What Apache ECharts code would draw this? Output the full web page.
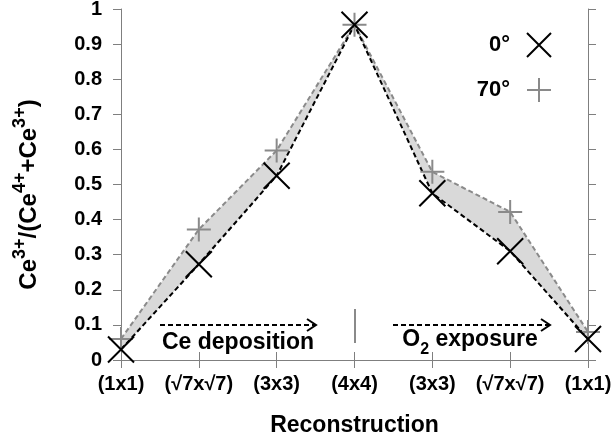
<!DOCTYPE html>
<html>
<head>
<meta charset="utf-8">
<script src="https://cdn.jsdelivr.net/npm/echarts@6/dist/echarts.min.js"></script>
<style>
  html, body { margin: 0; padding: 0; background: #fff; }
  #chart { width: 614px; height: 439px; }
</style>
</head>
<body>
<div id="chart"></div>
<script>
// Reconstruction sequence: Ce deposition up to (4x4), then O2 exposure back to (1x1)
const categories = ['(1x1)', '(√7x√7)', '(3x3)', '(4x4)', '(3x3)', '(√7x√7)', '(1x1)'];
// Ce3+ fraction at normal emission (0°) and grazing emission (70°)
const ratio0 = [0.03, 0.273, 0.525, 0.955, 0.475, 0.31, 0.06];
const ratio70 = [0.06, 0.372, 0.597, 0.955, 0.536, 0.422, 0.08];
const yTicks = { min: 0, max: 1, interval: 0.1 };

const FONT = '"Liberation Sans", Arial, Helvetica, sans-serif';
const AXIS_GREY = '#7f7f7f';
const GREY = '#8a8a8a';

const crossSymbol = 'path://M0,0L24,24M24,0L0,24';
const plusSymbol = 'path://M12,0L12,24M0,12L24,12';

// Shaded band between the two curves: stacked difference on top of the 0° values
const bandBase = ratio0.slice();
const bandWidth = ratio70.map((v, i) => +(v - ratio0[i]).toFixed(3));

const chart = echarts.init(document.getElementById('chart'), null, { renderer: 'canvas' });

const axisCommon = {
  axisLine: { show: true, lineStyle: { color: AXIS_GREY, width: 1 } },
  axisTick: { show: true, inside: false, length: 8, lineStyle: { color: AXIS_GREY, width: 1 } },
  splitLine: { show: false }
};

const option = {
  backgroundColor: '#fff',
  animation: false,
  grid: { left: 121, right: 26, top: 9, bottom: 79, containLabel: false, outerBoundsMode: 'none' },
  legend: {
    orient: 'vertical',
    right: 57,
    top: 27,
    align: 'right',
    itemWidth: 24,
    itemHeight: 24,
    itemGap: 19,
    selectedMode: false,
    textStyle: { fontFamily: FONT, fontWeight: 'bold', fontSize: 22, color: '#000', padding: [0, 12, 0, 0] },
    data: ['0°', '70°']
  },
  xAxis: [
    Object.assign({}, axisCommon, {
      type: 'category',
      data: categories,
      boundaryGap: false,
      position: 'bottom',
      axisTick: Object.assign({}, axisCommon.axisTick, { alignWithLabel: true }),
      axisLabel: { fontFamily: FONT, fontWeight: 'bold', fontSize: 20, color: '#000', margin: 14, interval: 0 },
      name: 'Reconstruction',
      nameLocation: 'middle',
      nameGap: 54,
      nameTextStyle: { fontFamily: FONT, fontWeight: 'bold', fontSize: 23, color: '#000' }
    }),
    Object.assign({}, axisCommon, {
      type: 'category',
      data: categories,
      boundaryGap: false,
      position: 'top',
      axisLabel: { show: false }
    })
  ],
  yAxis: [
    Object.assign({}, axisCommon, {
      type: 'value',
      min: yTicks.min,
      max: yTicks.max,
      interval: yTicks.interval,
      position: 'left',
      axisLabel: { fontFamily: FONT, fontWeight: 'bold', fontSize: 20, color: '#000', margin: 19 },
      name: '{b|Ce}{s|3+}{b|/(Ce}{s|4+}{b|+Ce}{s|3+}{b|)}',
      nameLocation: 'middle',
      nameRotate: 90,
      nameGap: 80,
      nameTextStyle: {
        padding: [0, 20, 0, 0],
        rich: {
          b: { fontFamily: FONT, fontWeight: 'bold', fontSize: 24, color: '#000', lineHeight: 30, verticalAlign: 'bottom' },
          s: { fontFamily: FONT, fontWeight: 'bold', fontSize: 18, color: '#000', lineHeight: 30, verticalAlign: 'top' }
        }
      }
    }),
    Object.assign({}, axisCommon, {
      type: 'value',
      min: yTicks.min,
      max: yTicks.max,
      interval: yTicks.interval,
      position: 'right',
      axisLabel: { show: false }
    })
  ],
  series: [
    {
      name: 'band-base',
      type: 'line',
      stack: 'band',
      data: bandBase,
      symbol: 'none',
      lineStyle: { opacity: 0 },
      silent: true,
      z: 1
    },
    {
      name: 'band',
      type: 'line',
      stack: 'band',
      data: bandWidth,
      symbol: 'none',
      lineStyle: { opacity: 0 },
      areaStyle: { color: '#d9d9d9', opacity: 1 },
      silent: true,
      z: 1
    },
    {
      name: 'line70',
      type: 'line',
      data: ratio70,
      symbol: 'none',
      lineStyle: { color: GREY, width: 2, type: [5, 3] },
      z: 2
    },
    {
      name: 'line0',
      type: 'line',
      data: ratio0,
      symbol: 'none',
      lineStyle: { color: '#000', width: 2, type: [5, 3] },
      z: 3
    },
    {
      name: '70°',
      type: 'scatter',
      data: ratio70,
      symbol: plusSymbol,
      symbolSize: 24,
      itemStyle: { color: 'rgba(0,0,0,0)', borderColor: GREY, borderWidth: 2, opacity: 1 },
      z: 4
    },
    {
      name: '0°',
      type: 'scatter',
      data: ratio0,
      symbol: crossSymbol,
      symbolSize: 26,
      itemStyle: { color: 'rgba(0,0,0,0)', borderColor: '#000', borderWidth: 2, opacity: 1 },
      z: 5
    }
  ],
  graphic: [
    // Ce deposition arrow and label
    { type: 'line', shape: { x1: 160, y1: 325, x2: 315, y2: 325 }, style: { stroke: '#000', lineWidth: 2, lineDash: [5, 3] } },
    { type: 'polyline', shape: { points: [[307, 319], [316, 325], [307, 331]] }, style: { stroke: '#000', lineWidth: 2, fill: null } },
    { type: 'text', x: 238, y: 343, style: { text: 'Ce deposition', font: 'bold 23px ' + FONT, fill: '#000', align: 'center', verticalAlign: 'middle' } },
    // separator at (4x4)
    { type: 'line', shape: { x1: 355, y1: 309, x2: 355, y2: 343 }, style: { stroke: GREY, lineWidth: 2 } },
    // O2 exposure arrow and label
    { type: 'line', shape: { x1: 393, y1: 325, x2: 549, y2: 325 }, style: { stroke: '#000', lineWidth: 2, lineDash: [5, 3] } },
    { type: 'polyline', shape: { points: [[541, 319], [550, 325], [541, 331]] }, style: { stroke: '#000', lineWidth: 2, fill: null } },
    {
      type: 'text', x: 470, y: 343,
      style: {
        text: '{b|O}{sub|2}{b| exposure}',
        align: 'center', verticalAlign: 'middle',
        rich: {
          b: { font: 'bold 23px ' + FONT, fill: '#000', lineHeight: 30, verticalAlign: 'top' },
          sub: { font: 'bold 16px ' + FONT, fill: '#000', lineHeight: 30, verticalAlign: 'bottom' }
        }
      }
    }
  ]
};

chart.setOption(option);
</script>
</body>
</html>
